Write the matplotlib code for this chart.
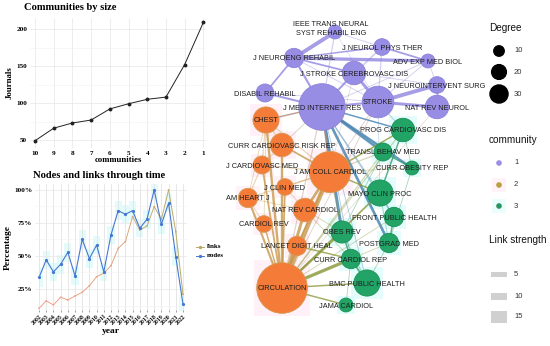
import numpy as np
import matplotlib
matplotlib.use('Agg')
import matplotlib.pyplot as plt
from matplotlib.patches import Circle, Rectangle
from matplotlib.collections import LineCollection
from matplotlib.colors import LinearSegmentedColormap

#==============================================================================
# data

# communities by size
comm_labels = ['10', '9', '8', '7', '6', '5', '4', '3', '2', '1']
journals = [49, 66, 73, 77, 92, 99, 105, 108, 152, 209]

# nodes and links through time (percent)
years = list(range(2002, 2023))
links_pct = [10.4, 16, 13, 18.7, 16.7, 19.7, 22.5, 27.5, 34.3, 37, 42.7,
             55.8, 60.9, 79.8, 69.7, 72.7, 87.4, 77.8, 100, 68.4, 21]
nodes_pct = [33.8, 47, 38, 43.7, 52.8, 35, 62.6, 48, 58.3, 38, 66,
             84.3, 81.6, 84.3, 71, 77.8, 100, 74, 90, 49.5, 13.6]

# network: layout coordinates, degree, community
node_keys = ['IEEE', 'JNPT', 'JNER', 'AEMB', 'JSCD', 'JNIS', 'DR', 'JMIR',
             'STROKE', 'NRN', 'CHEST', 'PCD', 'CCRR', 'TBM', 'JCM', 'COR',
             'JACC', 'JCLM', 'AHJ', 'MCP', 'NRC', 'CR', 'FPH', 'OR', 'PM',
             'LDH', 'CCR', 'CIRC', 'BMC', 'JAMA']
node_labels = ['IEEE TRANS NEURAL\nSYST REHABIL ENG', 'J NEUROL PHYS THER',
               'J NEUROENG REHABIL', 'ADV EXP MED BIOL',
               'J STROKE CEREBROVASC DIS', 'J NEUROINTERVENT SURG',
               'DISABIL REHABIL', 'J MED INTERNET RES', 'STROKE',
               'NAT REV NEUROL', 'CHEST', 'PROG CARDIOVASC DIS',
               'CURR CARDIOVASC RISK REP', 'TRANSL BEHAV MED',
               'J CARDIOVASC MED', 'CURR OBESITY REP', 'J AM COLL CARDIOL',
               'J CLIN MED', 'AM HEART J', 'MAYO CLIN PROC', 'NAT REV CARDIOL',
               'CARDIOL REV', 'FRONT PUBLIC HEALTH', 'OBES REV',
               'POSTGRAD MED', 'LANCET DIGIT HEAL', 'CURR CARDIOL REP',
               'CIRCULATION', 'BMC PUBLIC HEALTH', 'JAMA CARDIOL']
node_x = [335, 382, 294, 428, 354, 437, 265, 322, 378, 437, 266, 403, 282,
          383, 262, 412, 330, 285, 248, 380, 305, 264, 394, 342, 389, 297,
          351, 282, 367, 346]
node_y = [32, 47, 58, 61, 73, 85, 93, 107, 102, 107, 120, 130, 145, 152,
          165, 168, 172, 187, 198, 193, 210, 224, 217, 232, 243, 246, 259,
          288, 283, 305]
node_degree = [7, 9, 11, 7, 14, 9, 10, 31, 20, 14, 16, 14, 14, 10, 10, 7,
               27, 9, 11, 16, 14, 9, 11, 13, 11, 11, 11, 34, 16, 7]
node_comm = [1, 1, 1, 1, 1, 1, 1, 1, 1, 1, 2, 3, 2, 3, 2, 3, 2, 2, 2, 3, 2,
             2, 3, 3, 3, 2, 3, 2, 3, 3]

edges = [
	('JNER', 'IEEE', 12), ('JNER', 'AEMB', 10), ('JNER', 'JNPT', 4),
	('JNER', 'DR', 5), ('JNER', 'JMIR', 6), ('JNER', 'JSCD', 5),
	('JNER', 'STROKE', 2), ('IEEE', 'JNPT', 2), ('IEEE', 'JMIR', 3),
	('IEEE', 'STROKE', 1), ('JNPT', 'AEMB', 5), ('JNPT', 'STROKE', 3),
	('JNPT', 'JSCD', 2), ('JNPT', 'JMIR', 2), ('JSCD', 'STROKE', 9),
	('JSCD', 'JMIR', 5), ('JSCD', 'JNIS', 2), ('STROKE', 'JNIS', 12),
	('STROKE', 'NRN', 9), ('STROKE', 'JMIR', 6), ('STROKE', 'DR', 2),
	('STROKE', 'AEMB', 2), ('JNIS', 'NRN', 4), ('DR', 'JMIR', 6),
	('AEMB', 'JNIS', 2), ('AEMB', 'JMIR', 2),
	('JMIR', 'TBM', 8), ('JMIR', 'OR', 9), ('JMIR', 'PM', 8),
	('JMIR', 'COR', 7), ('JMIR', 'PCD', 4), ('JMIR', 'FPH', 3),
	('JMIR', 'MCP', 2), ('JMIR', 'CCR', 2), ('JMIR', 'BMC', 2),
	('STROKE', 'PCD', 2), ('STROKE', 'MCP', 1),
	('JMIR', 'CHEST', 4), ('JMIR', 'JACC', 5), ('JMIR', 'CIRC', 3),
	('JMIR', 'CCRR', 2), ('STROKE', 'JACC', 2), ('STROKE', 'CIRC', 2),
	('JSCD', 'JACC', 1), ('NRN', 'CIRC', 1),
	('CIRC', 'JACC', 14), ('CIRC', 'CHEST', 7), ('CIRC', 'CCRR', 7),
	('CIRC', 'JCM', 5), ('CIRC', 'AHJ', 6), ('CIRC', 'JCLM', 5),
	('CIRC', 'NRC', 9), ('CIRC', 'CR', 4), ('CIRC', 'LDH', 8),
	('JACC', 'CHEST', 3), ('JACC', 'CCRR', 5), ('JACC', 'JCM', 3),
	('JACC', 'NRC', 8), ('JACC', 'JCLM', 3), ('JACC', 'LDH', 4),
	('JACC', 'AHJ', 3), ('CHEST', 'CCRR', 3), ('CHEST', 'JCM', 3),
	('AHJ', 'JCM', 3), ('CR', 'AHJ', 2), ('CCRR', 'JCM', 2),
	('JCLM', 'NRC', 2), ('AHJ', 'NRC', 2), ('CHEST', 'AHJ', 2),
	('CHEST', 'CR', 2),
	('CIRC', 'CCR', 10), ('CIRC', 'OR', 6), ('CIRC', 'MCP', 5),
	('CIRC', 'JAMA', 4), ('CIRC', 'BMC', 4), ('CIRC', 'TBM', 3),
	('CIRC', 'PCD', 3), ('CIRC', 'FPH', 2), ('CIRC', 'PM', 2),
	('JACC', 'PCD', 4), ('JACC', 'MCP', 4), ('JACC', 'TBM', 3),
	('JACC', 'OR', 3), ('JACC', 'COR', 2), ('LDH', 'CCR', 4),
	('NRC', 'OR', 2), ('NRC', 'CCR', 2),
	('PCD', 'MCP', 4), ('TBM', 'COR', 4), ('MCP', 'FPH', 3),
	('FPH', 'PM', 4), ('OR', 'CCR', 4), ('CCR', 'BMC', 5),
	('OR', 'BMC', 3), ('CCR', 'JAMA', 2), ('PM', 'COR', 2),
	('TBM', 'OR', 2), ('PCD', 'COR', 2), ('MCP', 'PM', 2), ('PM', 'BMC', 2)]

degree_breaks = [10, 20, 30]
community_ids = [1, 2, 3]
strength_breaks = [5, 10, 15]

#==============================================================================
# styles

W, H = 550., 346.
serif = 'Liberation Serif'
sans = 'Liberation Sans'
node_col = {1: '#988de4', 2: '#f57b38', 3: '#22a466'}
node_edge = {1: '#8c82d8', 2: '#d49a50', 3: '#1b8f55'}
edge_col = {(1, 1): '#8f85e0', (2, 2): '#c9974c', (3, 3): '#2f9e6c',
            (1, 3): '#3f7faf', (2, 3): '#8e9a3e', (1, 2): '#b08878'}
halo_col = {2: '#ffe6f2', 3: '#cffdfb'}
grid_major = '#e6e6e6'
grid_minor = '#f2f2f2'


def px_rect(x0, y0, w, h):
	return [x0 / W, 1 - (y0 + h) / H, w / W, h / H]


def node_radius(d):
	return 2.2 + 0.68 * d


fig = plt.figure(figsize=(5.5, 3.46), dpi=100)
fig.patch.set_facecolor('white')

#==============================================================================
# network (pixel coordinates)

ax = fig.add_axes([0, 0, 1, 1])
ax.set_xlim(0, W)
ax.set_ylim(H, 0)
ax.axis('off')

pos = {k: (x, y) for k, x, y in zip(node_keys, node_x, node_y)}
comm = dict(zip(node_keys, node_comm))

for x, y, d, c in zip(node_x, node_y, node_degree, node_comm):
	if c in halo_col:
		h = node_radius(d) + 2.5
		ax.add_patch(Rectangle((x - h, y - h), 2 * h, 2 * h, facecolor=halo_col[c],
		                       edgecolor='none', alpha=0.55, zorder=1))

for a, b, w in edges:
	ca, cb = sorted((comm[a], comm[b]))
	alpha = 0.8 if w >= 4 else 0.4
	ax.plot([pos[a][0], pos[b][0]], [pos[a][1], pos[b][1]],
	        color=edge_col[(ca, cb)], lw=0.3 * w * 0.72 + 0.2, alpha=alpha,
	        solid_capstyle='butt', zorder=2)

for x, y, d, c in zip(node_x, node_y, node_degree, node_comm):
	ax.add_patch(Circle((x, y), node_radius(d), facecolor=node_col[c],
	                    edgecolor=node_edge[c], lw=0.6, zorder=3))

for lab, x, y in zip(node_labels, node_x, node_y):
	if '\n' in lab:
		ax.text(x - 4, y - 3, lab, ha='center', va='center', fontsize=5.3,
		        family=sans, color='#1e1e1e', linespacing=1.3, zorder=4)
	else:
		ax.text(x, y + 1, lab, ha='center', va='center', fontsize=5.3,
		        family=sans, color='#1e1e1e', zorder=4)

# legends
ax.text(489, 28, 'Degree', fontsize=7.2, family=sans, va='center', color='#111')
for d, y in zip(degree_breaks, [51, 72, 94]):
	ax.add_patch(Circle((499, y), 1.65 * np.sqrt(d), color='black', zorder=3))
	ax.text(514, y, str(d), fontsize=5.5, family=sans, va='center', color='#333')

ax.text(489, 140, 'community', fontsize=7.2, family=sans, va='center', color='#111')
leg_dot = {1: '#9a8fe4', 2: '#b9a040', 3: '#2e9262'}
for c, y in zip(community_ids, [163, 185, 206]):
	if c in halo_col:
		ax.add_patch(Rectangle((492, y - 7), 14, 14, facecolor=halo_col[c],
		                       edgecolor='none', alpha=0.45, zorder=1))
	ax.add_patch(Circle((499, y), 2.1, color=leg_dot[c], zorder=3))
	ax.text(514, y, str(c), fontsize=5.5, family=sans, va='center', color='#333')

ax.text(489, 240, 'Link strength', fontsize=7.2, family=sans, va='center',
        color='#111')
for s, y, hh in zip(strength_breaks, [274, 296, 317], [5, 7, 12]):
	ax.add_patch(Rectangle((491, y - hh / 2.), 16, hh, facecolor='#d0d0d0',
	                       edgecolor='none', zorder=2))
	ax.text(514, y, str(s), fontsize=5.5, family=sans, va='center', color='#333')

# legend of the time series (sits in the gap between panels)
ax.plot([196, 204], [247, 247], color='#b8a868', lw=0.7)
ax.plot([200], [247], 'o', color='#b8a868', ms=1.4)
ax.plot([196, 204], [255.5, 255.5], color='#4678d2', lw=0.7)
ax.plot([200], [255.5], 'o', color='#4678d2', ms=1.4)
ax.text(207, 247, 'links', fontsize=5, family=serif, weight='bold', va='center')
ax.text(207, 255.5, 'nodes', fontsize=5, family=serif, weight='bold', va='center')

#==============================================================================
# communities by size

ax1 = fig.add_axes(px_rect(30, 18, 176, 130))
ax1.set_facecolor('none')
xs = np.arange(1, len(journals) + 1)
ax1.plot(xs, journals, color='#222', lw=0.7, marker='o', ms=1.8, zorder=3,
         clip_on=False)
ax1.set_xlim(0.733, 10.14)
ax1.set_ylim(39.2, 214.9)
ax1.set_xticks(xs)
ax1.set_xticklabels(comm_labels)
ax1.set_yticks([50, 100, 150, 200])
ax1.set_yticks([75, 125, 175], minor=True)
ax1.grid(True, which='major', color=grid_major, lw=0.5)
ax1.grid(True, which='minor', axis='y', color=grid_minor, lw=0.4)
for s in ax1.spines.values():
	s.set_visible(False)
ax1.tick_params(length=0, pad=2, labelsize=5.2, which='both')
for t in ax1.get_xticklabels() + ax1.get_yticklabels():
	t.set_family(serif)
	t.set_weight('bold')
ax1.set_xlabel('communities', family=serif, weight='bold', fontsize=6.3,
               labelpad=0)
ax1.set_ylabel('Journals', family=serif, weight='bold', fontsize=6.3,
               labelpad=2)
fig.text(24 / W, 1 - 8 / H, 'Communities by size', family=serif, weight='bold',
         fontsize=7.6, va='center')

#==============================================================================
# nodes and links through time

ax2 = fig.add_axes(px_rect(35, 184, 152, 126))
ax2.set_facecolor('none')
yr = np.array(years)
npct = np.array(nodes_pct)
ax2.fill_between(yr, npct - 7, npct + 7, step='mid', color='#e3fbfb',
                 lw=0, zorder=1)

cmap = LinearSegmentedColormap.from_list('lk', ['#f2a08c', '#e4a482', '#b4ae66'])
pts = np.column_stack([yr, links_pct])
segs = np.stack([pts[:-1], pts[1:]], axis=1)
lc = LineCollection(segs, colors=cmap(np.linspace(0, 1, len(segs))), lw=0.7,
                    zorder=3)
ax2.add_collection(lc)
ax2.scatter(yr, links_pct, s=1.6, c=cmap(np.linspace(0, 1, len(yr))),
            zorder=4, lw=0)
ax2.plot(yr, nodes_pct, color='#4678d2', lw=0.8, marker='o', ms=1.3, zorder=4)

ax2.set_xlim(2001.44, 2022.56)
ax2.set_ylim(9.1, 104.5)
ax2.set_xticks(yr)
ax2.set_xticklabels([str(y) for y in years], rotation=45, ha='right',
                    rotation_mode='anchor')
ax2.set_yticks([25, 50, 75, 100])
ax2.set_yticklabels(['25%', '50%', '75%', '100%'])
ax2.set_yticks([12.5, 37.5, 62.5, 87.5], minor=True)
ax2.grid(True, which='major', axis='x', color='#dddddd', lw=0.5)
ax2.grid(True, which='major', axis='y', color=grid_major, lw=0.5)
ax2.grid(True, which='minor', axis='y', color=grid_minor, lw=0.4)
for s in ax2.spines.values():
	s.set_visible(False)
ax2.tick_params(axis='y', length=0, pad=2, labelsize=5.2, which='both')
ax2.tick_params(axis='x', length=1.5, width=0.4, color='#555', pad=1,
                labelsize=4.2)
for t in ax2.get_xticklabels() + ax2.get_yticklabels():
	t.set_family(serif)
	t.set_weight('bold')
ax2.set_xlabel('year', family=serif, weight='bold', fontsize=6.8, labelpad=1)
ax2.set_ylabel('Percentage', family=serif, weight='bold', fontsize=6.8,
               labelpad=2)
fig.text(33 / W, 1 - 176 / H, 'Nodes and links through time', family=serif,
         weight='bold', fontsize=7.6, va='center')

fig.savefig('out.png', dpi=100)
